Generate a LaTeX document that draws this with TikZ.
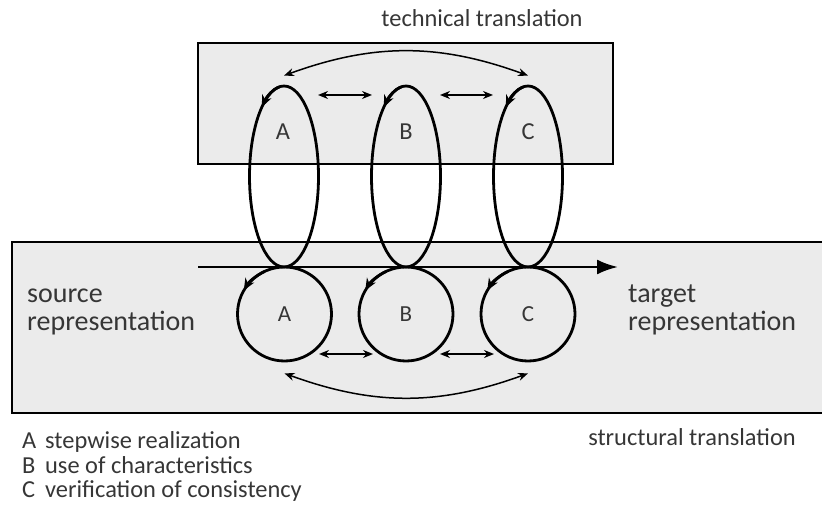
\documentclass[tikz,border=0pt]{standalone}
\usepackage{fontspec}
\setmainfont{Carlito}
\usepackage{tikz}
\usetikzlibrary{
    arrows.meta,
    shapes.geometric,
    calc,
    positioning
}
\definecolor{panel}{HTML}{EBEBEB}
\definecolor{ink}{HTML}{363636}
\tikzset{
    panelbox/.style={draw=black, line width=2.3pt, fill=panel},
    loopell/.style={ellipse, draw, line width=2.8pt, minimum width=69pt, minimum height=181pt, inner sep=0pt},
    loopcirc/.style={circle, draw, line width=2.8pt, minimum size=94pt, inner sep=0pt, text=ink, font=\fontsize{23}{23}\selectfont},
    looptip/.style={line width=2.8pt, -{Stealth[length=12pt,width=10pt]}},
    exchange/.style={line width=1.5pt, {Stealth[length=10pt,width=8pt]}-{Stealth[length=10pt,width=8pt]}},
    labeltext/.style={text=ink, font=\fontsize{24.4}{24.4}\selectfont, inner sep=0pt},
    bigtext/.style={text=ink, font=\fontsize{28}{28}\selectfont, inner sep=0pt, align=left}
}

\begin{document}
\begin{tikzpicture}[x=1pt, y=1pt]
                        \useasboundingbox (0,0) rectangle (822,512);
                        \draw[panelbox] (12,270) rectangle (836,99);
                        \draw[panelbox] (198,469) rectangle (613,348);
                        \node[loopell] (ellA) at (284, 335.5) {};
                        \node[loopell] (ellB) at (406, 335.5) {};
                        \node[loopell] (ellC) at (528, 335.5) {};
                        \node[labeltext] (tagA) at (283, 380) {A};
                        \node[labeltext] (tagB) at (406, 380) {B};
                        \node[labeltext] (tagC) at (528, 380) {C};
                        \node[loopcirc] (cirA) at (284.5, 198) {A};
                        \node[loopcirc] (cirB) at (406, 198) {B};
                        \node[loopcirc] (cirC) at (528, 198) {C};
                        \coordinate (flowin) at (198, 245);
                        \coordinate (flowout) at (618, 245);
                        \draw[line width=2.6pt, -{Latex[length=21pt,width=15pt]}] (flowin) -- (flowout);
                        \draw[looptip] ($(ellA.center)+(98:34.5 and 90.5)$) arc[start angle=98, end angle=130, x radius=34.5, y radius=90.5];
                        \draw[looptip] ($(ellB.center)+(98:34.5 and 90.5)$) arc[start angle=98, end angle=130, x radius=34.5, y radius=90.5];
                        \draw[looptip] ($(ellC.center)+(98:34.5 and 90.5)$) arc[start angle=98, end angle=130, x radius=34.5, y radius=90.5];
                        \draw[looptip] ($(cirA.center)+(115:47)$) arc[start angle=115, end angle=150, radius=47];
                        \draw[looptip] ($(cirB.center)+(115:47)$) arc[start angle=115, end angle=150, radius=47];
                        \draw[looptip] ($(cirC.center)+(115:47)$) arc[start angle=115, end angle=150, radius=47];
                        \draw[exchange] ($(ellA.center)+(34,81.5)$) -- ($(ellB.center)+(-34,81.5)$);
                        \draw[exchange] ($(ellB.center)+(34,81.5)$) -- ($(ellC.center)+(-35,81.5)$);
                        \draw[exchange] ($(cirA.center)+(34.5,-40)$) -- ($(cirB.center)+(-33,-40)$);
                        \draw[exchange] ($(cirB.center)+(34,-40)$) -- ($(cirC.center)+(-34,-40)$);
                        \draw[exchange] ([yshift=9pt]ellA.north) to[bend left=20] ([yshift=9pt]ellC.north);
                        \draw[exchange] ([yshift=-11pt]cirA.south) to[bend right=20] ([yshift=-11pt]cirC.south);
                        \node[labeltext, anchor=base] (techlabel) at (482, 485) {technical translation};
                        \node[labeltext, anchor=base] (structlabel) at (692, 67) {structural translation};
                        \node[bigtext, anchor=base west] (source) at (27, 182) {source\\representation};
                        \node[bigtext, anchor=base west] (target) at (628, 182) {target\\representation};
                        \node[labeltext, anchor=base west] (keyA) at (22, 64) {\makebox[23pt][l]{A}stepwise realization};
                        \node[labeltext, anchor=base west] (keyB) at (22, 39) {\makebox[23pt][l]{B}use of characteristics};
                        \node[labeltext, anchor=base west] (keyC) at (22, 15) {\makebox[23pt][l]{C}verification of consistency};
                    \end{tikzpicture}
\end{document}
